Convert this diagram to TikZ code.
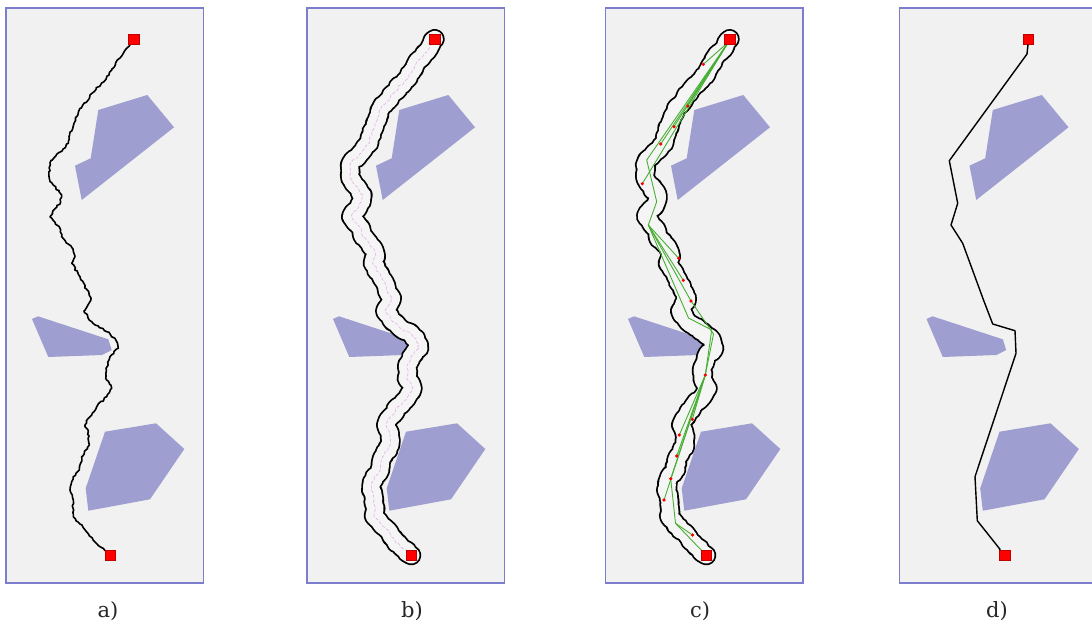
\documentclass[tikz,border=0pt]{standalone}
\usepackage{fontspec}
\setmainfont{DejaVu Serif}
\usetikzlibrary{decorations.pathmorphing}
\definecolor{bgc}{RGB}{241,241,241}
\definecolor{tubec}{RGB}{245,245,245}
\definecolor{framec}{RGB}{125,125,205}
\definecolor{obsc}{RGB}{158,158,208}
\definecolor{greenc}{RGB}{70,175,50}
\definecolor{pinkc}{RGB}{228,175,232}
\newcommand\basepath{(133.7,39) -- (129.3,46) -- (117.3,60) -- (111.7,70) -- (106,79.3) -- (90,95) -- (88.3,100) -- (80,108.3) -- (74,123.3) -- (69,136.7) -- (68.3,143.3) -- (50,162.7) -- (49.3,178.3) -- (51.7,182.7) -- (61.7,195) -- (60.7,201.7) -- (50,216.7) -- (60.7,230) -- (61.7,236.7) -- (71.7,247.3) -- (75,256.7) -- (71.7,263.3) -- (80,276.7) -- (91,298) -- (84,311) -- (91.7,321.7) -- (106.7,331.7) -- (115,338.3) -- (118.3,348.3) -- (110,356.7) -- (106,368.3) -- (106.7,380) -- (111.7,388.3) -- (106.7,396.7) -- (96.7,406.7) -- (88.3,418.3) -- (85,425) -- (88.3,431.7) -- (89.3,445) -- (81.7,456.7) -- (79.3,470) -- (73.3,476.7) -- (70,490) -- (73.3,500) -- (73.3,516.7) -- (100,546.7) -- (110.3,555.3)}
\newcommand\obstacles{%
  \fill[obsc] (98.3,110) -- (147.3,95) -- (174,127.3) -- (81.7,200) -- (75,165.7) -- (90.7,158.3) -- cycle;
  \fill[obsc] (32,319) -- (38,316.3) -- (108.3,339.3) -- (111.7,350) -- (102,355) -- (48.3,357) -- cycle;
  \fill[obsc] (105,431.7) -- (156,423.3) -- (184.3,449) -- (150,499.3) -- (88.3,510.7) -- (85.7,488.3) -- cycle;
}
\begin{document}
\begin{tikzpicture}[x=1pt,y=-1pt,
  panel/.style={draw=framec,fill=bgc,line width=1.4pt},
  goal/.style={shape=rectangle,fill=red,draw=red!75!black,line width=0.4pt,minimum size=10.5pt,inner sep=0pt},
  jag/.style={decorate,decoration={random steps,segment length=2.5pt,amplitude=1pt}},
  wob/.style={decorate,decoration={random steps,segment length=3pt,amplitude=1.3pt},line cap=round,line join=round},
  tubeout/.style={wob,line width=20pt,black},
  tubein/.style={wob,line width=16.4pt,tubec},
  centre/.style={wob,line width=0.6pt,pinkc,dash pattern=on 3pt off 2pt},
  tree/.style={greenc,line width=0.9pt},
  dot/.style={circle,fill=red,inner sep=0pt,minimum size=3.2pt},
  lab/.style={font=\fontsize{21}{24}\selectfont,text=black!85}
]
\useasboundingbox (0,0) rectangle (1092,627);
\fill[white] (0,0) rectangle (1092,627);
% frames
\draw[panel] (6,8) rectangle (203.5,583);
\draw[panel] (307,8) rectangle (504.5,583);
\draw[panel] (605.3,8) rectangle (802.8,583);
\draw[panel] (899.3,8) rectangle (1096.8,583);
% ---------- panel a
\begin{scope}
  \obstacles
  \pgfmathsetseed{11}
  \draw[jag,line width=1.6pt,black,line join=round] \basepath;
  \node[goal] (sa) at (133.7,39) {};
  \node[goal] (ea) at (110.3,555.3) {};
\end{scope}
\node[lab] (la) at (108,611) {a)};
% ---------- panel b
\begin{scope}[xshift=301pt]
  \obstacles
  \pgfmathsetseed{21}
  \draw[tubeout] \basepath;
  \pgfmathsetseed{21}
  \draw[tubein] \basepath;
  \pgfmathsetseed{21}
  \draw[centre] \basepath;
  \node[goal] (sb) at (133.7,39) {};
  \node[goal] (eb) at (110.3,555.3) {};
\end{scope}
\node[lab] (lb) at (412,611) {b)};
% ---------- panel c
\begin{scope}[xshift=596pt]
  \obstacles
  \pgfmathsetseed{31}
  \draw[tubeout] \basepath;
  \pgfmathsetseed{31}
  \draw[tubein] \basepath;
  \node[goal] (sc) at (133.7,39) {};
  \node[goal] (ec) at (110.3,555.3) {};
  \coordinate (s) at (132.5,42);
  \coordinate (e) at (108,553);
  \coordinate (v1) at (50.7,160);
  \coordinate (v1b) at (60.7,201.7);
  \coordinate (v2) at (52.3,225);
  \coordinate (v3) at (92.5,318);
  \coordinate (v4) at (115.7,330);
  \coordinate (v4b) at (117.5,334);
  \coordinate (v5) at (79.5,523.3);
  \node[dot] (d1) at (107.3,64.3) {};
  \node[dot] (d2) at (91.7,106) {};
  \node[dot] (d3) at (78,126.7) {};
  \node[dot] (d4) at (64.7,144) {};
  \node[dot] (d5) at (46.3,183.7) {};
  \node[dot] (d6) at (82.7,258.3) {};
  \node[dot] (d7) at (87.3,280.3) {};
  \node[dot] (d8) at (95,301) {};
  \node[dot] (d9) at (109.3,375) {};
  \node[dot] (d10) at (96.3,419.3) {};
  \node[dot] (d11) at (83.3,435) {};
  \node[dot] (d12) at (80.7,456) {};
  \node[dot] (d13) at (74.7,478.7) {};
  \node[dot] (d14) at (68,500) {};
  \node[dot] (d15) at (96.5,535) {};
  \draw[tree] (s) -- (d1.center);
  \draw[tree] (s) -- (d2.center);
  \draw[tree] (s) -- (d3.center);
  \draw[tree] (s) -- (d4.center);
  \draw[tree] (s) -- (v1);
  \draw[tree] (s) -- (d5.center);
  \draw[tree] (v1) -- (v1b) -- (v2);
  \draw[tree] (v2) -- (d6.center);
  \draw[tree] (v2) -- (d7.center);
  \draw[tree] (v2) -- (d8.center);
  \draw[tree] (v2) -- (v3) -- (v4) -- (d9.center);
  \draw[tree] (d8.center) -- (v4b) -- (d9.center);
  \draw[tree] (d9.center) -- (d10.center);
  \draw[tree] (d9.center) -- (d11.center);
  \draw[tree] (d9.center) -- (d12.center);
  \draw[tree] (d9.center) -- (d13.center);
  \draw[tree] (d9.center) -- (d14.center);
  \draw[tree] (d13.center) -- (v5) -- (e);
  \draw[tree] (v5) -- (d15.center);
  \foreach \d in {d1,d2,d3,d4,d5,d6,d7,d8,d9,d10,d11,d12,d13,d14,d15}
    \fill[red] (\d) circle (1.6pt);
  \node[goal] at (sc) {};
  \node[goal] at (ec) {};
\end{scope}
\node[lab] (lc) at (700,611) {c)};
% ---------- panel d
\begin{scope}[xshift=894.5pt]
  \obstacles
  \node[goal] (sd) at (133.5,39) {};
  \node[goal] (ed) at (110.2,555.3) {};
  \draw[black,line width=1.4pt,line join=round] (sd.south) -- (132.5,54) -- (54.8,160.7) -- (63.2,203.3) -- (56.5,225) -- (68.2,243.3) -- (89,300) -- (98.2,324) -- (120.5,330.7) -- (121.5,353.3) -- (80.5,476.7) -- (82.8,520.7) -- (105.5,549.3) -- (ed.north west);
\end{scope}
\node[lab] (ld) at (997,611) {d)};
\end{tikzpicture}
\end{document}
